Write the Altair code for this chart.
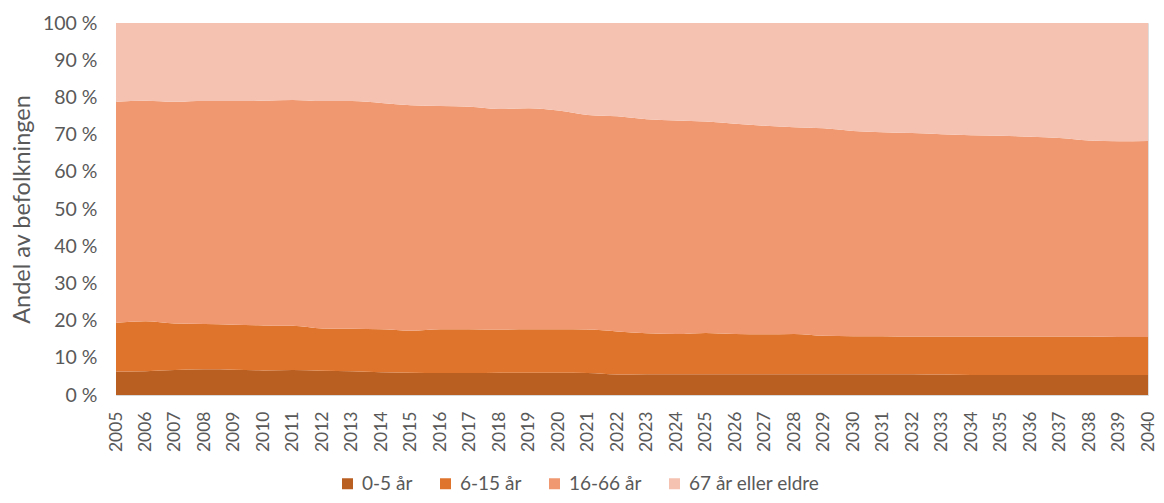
import altair as alt
import pandas as pd

years = list(range(2005, 2041))
groups = ["0-5 år", "6-15 år", "16-66 år", "67 år eller eldre"]
colors = ["#BA5F22", "#DF742C", "#F09870", "#F5C2B1"]

age_0_5 = [6.3, 6.4, 6.7, 6.9, 6.8, 6.6, 6.7, 6.5, 6.4, 6.1, 6.0, 5.9, 5.9, 6.0, 6.0, 6.0,
           5.9, 5.5, 5.6, 5.6, 5.6, 5.6, 5.6, 5.6, 5.6, 5.6, 5.6, 5.6, 5.5, 5.4, 5.4, 5.4,
           5.4, 5.4, 5.4, 5.4]
age_6_15 = [13.1, 13.4, 12.5, 12.2, 12.1, 12.1, 11.9, 11.4, 11.4, 11.6, 11.3, 11.8, 11.8, 11.6,
            11.7, 11.7, 11.7, 11.6, 11.0, 10.8, 11.1, 10.8, 10.7, 10.8, 10.3, 10.2, 10.2, 10.1,
            10.2, 10.3, 10.3, 10.3, 10.3, 10.3, 10.2, 10.2]
age_16_66 = [59.4, 59.3, 59.6, 59.9, 60.1, 60.4, 60.7, 61.1, 61.2, 60.8, 60.6, 60.0, 59.8, 59.3,
             59.4, 58.8, 57.7, 57.8, 57.5, 57.4, 56.8, 56.5, 56.1, 55.6, 55.8, 55.2, 54.8, 54.7,
             54.4, 54.1, 54.0, 53.7, 53.4, 52.7, 52.6, 52.7]
age_67 = [21.2, 20.9, 21.2, 21.0, 21.0, 20.9, 20.7, 21.0, 21.0, 21.5, 22.1, 22.3, 22.5, 23.1,
          22.9, 23.5, 24.7, 25.1, 25.9, 26.2, 26.5, 27.1, 27.6, 28.0, 28.3, 29.0, 29.4, 29.6,
          29.9, 30.2, 30.3, 30.6, 30.9, 31.6, 31.8, 31.7]

series = [age_0_5, age_6_15, age_16_66, age_67]
rows = []
for gi, (g, vals) in enumerate(zip(groups, series)):
    for y, v in zip(years, vals):
        rows.append({"year": y, "group": g, "idx": gi, "value": v})
df = pd.DataFrame(rows)

FONT = "Lato"
TXT = "#595959"

chart = alt.Chart(df).mark_area(interpolate="monotone").encode(
    x=alt.X("year:Q",
            scale=alt.Scale(domain=[2005, 2040], nice=False, zero=False),
            axis=alt.Axis(values=years, format="d", labelAngle=-90, title=None,
                          ticks=False, labelPadding=16, domainColor="#D9D9D9",
                          labelFontSize=17.5, labelColor=TXT, labelFont=FONT,
                          grid=False, labelOverlap=False, labelBound=False)),
    y=alt.Y("value:Q", stack="zero",
            scale=alt.Scale(domain=[0, 100], nice=False),
            axis=alt.Axis(values=list(range(0, 101, 10)), labelExpr="datum.value + ' %'",
                          title="Andel av befolkningen", titleFontSize=23.5, titleFont=FONT,
                          titleFontWeight="normal", titleColor=TXT, titlePadding=8,
                          labelFontSize=19.5, labelColor=TXT, labelFont=FONT,
                          labelPadding=19, ticks=False, domain=False, grid=False)),
    color=alt.Color("group:N",
                    scale=alt.Scale(domain=groups, range=colors),
                    legend=alt.Legend(title=None, orient="none", direction="horizontal",
                                      legendX=222, legendY=451,
                                      symbolType="square", symbolSize=121,
                                      symbolStrokeWidth=0, symbolOpacity=1,
                                      labelFontSize=19, labelColor=TXT, labelFont=FONT,
                                      columnPadding=23, labelOffset=5)),
    order=alt.Order("idx:Q", sort="ascending"),
).properties(
    width=1032, height=372,
    autosize=alt.AutoSizeParams(type="none"),
    padding={"left": 108, "top": 15, "right": 8, "bottom": 100},
).configure_view(stroke=None).configure(background="white")

chart.save("out.html", embed_options={"renderer": "svg", "actions": False})
